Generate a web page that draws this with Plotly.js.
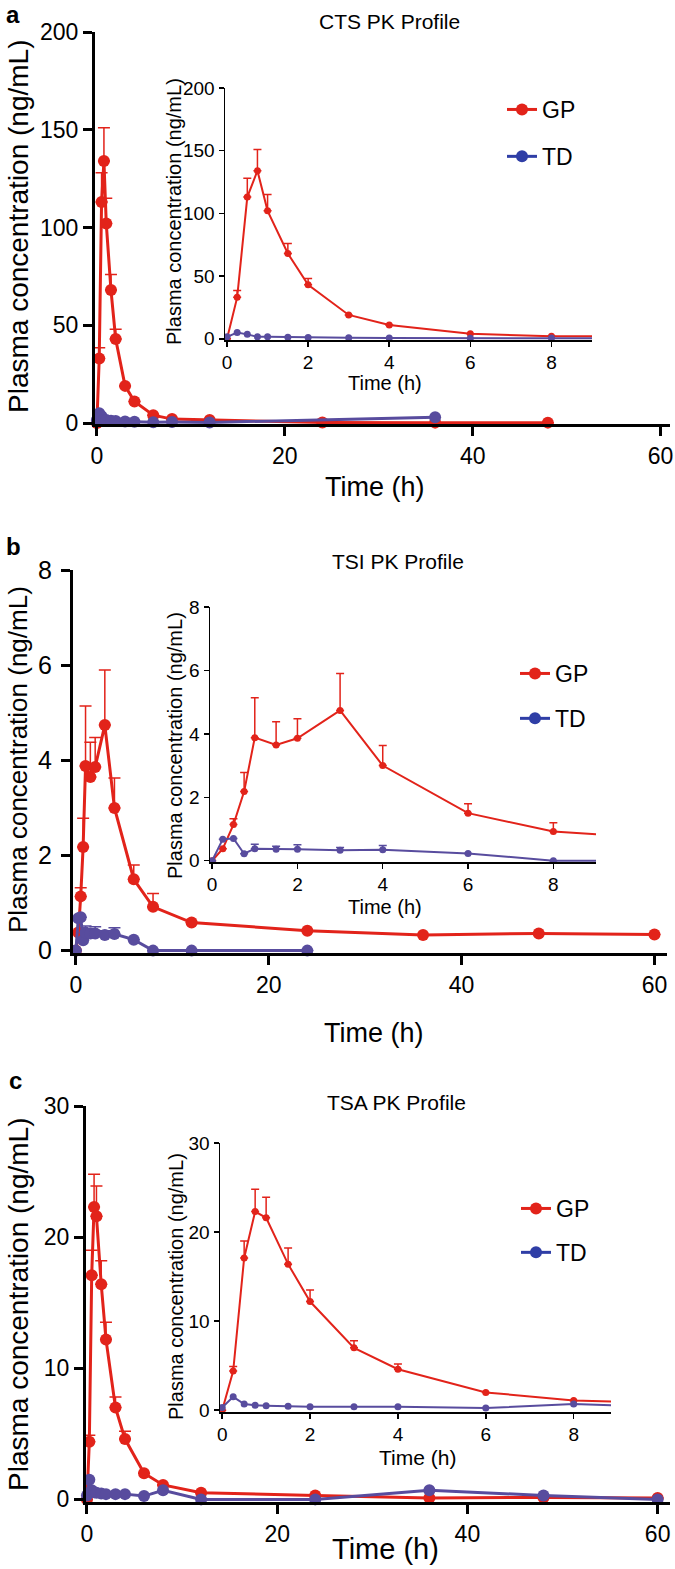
<!DOCTYPE html>
<html><head><meta charset="utf-8">
<script src="https://cdn.plot.ly/plotly-3.0.1.min.js"></script>
<style>html,body{margin:0;padding:0;background:#fff}#chart{width:675px;height:1569px}</style>
</head><body><div id="chart"></div>
<script>
// ---------- DATA ----------
const timesGP = [0,0.25,0.5,0.75,1,1.5,2,3,4,6,8,12,24,36,48];
const ctsGP    = [0,33,113,134,102,68,43,19,11,4,2,1.5,0.3,0.2,0.2];
const ctsGPerr = [0,5.5,15,17,13,8,5,0,0,0,0,0,0,0,0];
const timesCtsTD = [0,0.25,0.5,0.75,1,1.5,2,3,4,6,8,12,36];
const ctsTD    = [1.5,5,3.5,1.5,1.5,1.2,1,0.8,0.6,0.4,0.5,0.3,3];

const timesTsi = [0,0.25,0.5,0.75,1,1.5,2,3,4,6,8,12,24,36,48,60];
const tsiGP    = [0,0.38,1.14,2.18,3.88,3.65,3.86,4.74,3.0,1.5,0.92,0.59,0.42,0.33,0.36,0.34];
const tsiGPerr = [0,0,0.18,0.6,1.26,0.73,0.62,1.16,0.63,0.3,0.28,0,0,0,0,0];
const timesTsiTD = [0,0.25,0.5,0.75,1,1.5,2,3,4,6,8,12,24];
const tsiTD    = [0,0.68,0.7,0.22,0.38,0.36,0.36,0.33,0.35,0.23,0,0,0];
const tsiTDerr = [0,0,0,0,0.14,0.1,0.14,0.09,0.13,0,0,0,0];

const timesTsa = [0,0.25,0.5,0.75,1,1.5,2,3,4,6,8,12,24,36,48,60];
const tsaGP    = [0,4.4,17.1,22.3,21.6,16.4,12.2,7.0,4.6,2.0,1.1,0.5,0.3,0.1,0.15,0.1];
const tsaGPerr = [0,0.5,1.9,2.5,2.3,1.8,1.3,0.8,0.6,0,0,0,0,0,0,0];
const tsaTD    = [0.3,1.5,0.7,0.55,0.5,0.45,0.4,0.4,0.4,0.25,0.7,0,0,0.7,0.3,0];

const panelTitles = ["CTS PK Profile","TSI PK Profile","TSA PK Profile"];
const panelLetters = ["a","b","c"];
const seriesNames = ["GP","TD"];
const yTitle = "Plasma concentration (ng/mL)";
const xTitle = "Time (h)";

// ---------- STYLE ----------
const W=675, H=1569;
const RED="#e2231a", BLUE="#584c9e", LEGBLUE="#2f3ea6";
const FONT="Liberation Sans, Arial, Helvetica, sans-serif";
const px=x=>x/W, py=y=>1-y/H;
const zeros=a=>a.map(()=>0);

function mainTrace(x,y,err,color,xa,ya){
  const t={x:x,y:y,type:'scatter',mode:'lines+markers',xaxis:xa,yaxis:ya,showlegend:false,
    line:{color:color,width:3},marker:{color:color,size:12},cliponaxis:false};
  if(err) t.error_y={type:'data',symmetric:false,array:err,arrayminus:zeros(err),color:color,thickness:1.5,width:6};
  return t;
}
function insetTrace(x,y,err,color,xa,ya){
  const t={x:x,y:y,type:'scatter',mode:'lines+markers',xaxis:xa,yaxis:ya,showlegend:false,
    line:{color:color,width:2},marker:{color:color,size:7},cliponaxis:true};
  if(err) t.error_y={type:'data',symmetric:false,array:err,arrayminus:zeros(err),color:color,thickness:1.5,width:4};
  return t;
}
function legTrace(name,color,leg,grp,xa,ya){
  return {x:[null],y:[null],type:'scatter',mode:'lines+markers',name:name,legend:leg,legendgroup:grp,
    xaxis:xa,yaxis:ya,line:{color:color,width:3},marker:{color:color,size:12},showlegend:true};
}

const data=[
  mainTrace(timesGP,ctsGP,ctsGPerr,RED,'x','y'),
  mainTrace(timesCtsTD,ctsTD,null,BLUE,'x','y'),
  insetTrace(timesGP,ctsGP,ctsGPerr,RED,'x2','y2'),
  insetTrace(timesCtsTD,ctsTD,null,BLUE,'x2','y2'),
  legTrace(seriesNames[0],RED,'legend','g1','x2','y2'),
  legTrace(seriesNames[1],LEGBLUE,'legend','g2','x2','y2'),

  mainTrace(timesTsi,tsiGP,tsiGPerr,RED,'x3','y3'),
  mainTrace(timesTsiTD,tsiTD,tsiTDerr,BLUE,'x3','y3'),
  insetTrace(timesTsi,tsiGP,tsiGPerr,RED,'x4','y4'),
  insetTrace(timesTsiTD,tsiTD,tsiTDerr,BLUE,'x4','y4'),
  legTrace(seriesNames[0],RED,'legend2','g1','x4','y4'),
  legTrace(seriesNames[1],LEGBLUE,'legend2','g2','x4','y4'),

  mainTrace(timesTsa,tsaGP,tsaGPerr,RED,'x5','y5'),
  mainTrace(timesTsa,tsaTD,null,BLUE,'x5','y5'),
  insetTrace(timesTsa,tsaGP,tsaGPerr,RED,'x6','y6'),
  insetTrace(timesTsa,tsaTD,null,BLUE,'x6','y6'),
  legTrace(seriesNames[0],RED,'legend3','g1','x6','y6'),
  legTrace(seriesNames[1],LEGBLUE,'legend3','g2','x6','y6'),
];

function mainAx(dom,range,dtick,anchor,fs,standoff){
  return {domain:dom,range:range,dtick:dtick,tick0:0,anchor:anchor,showline:true,linewidth:3,linecolor:'#000',
    ticks:'outside',ticklen:9,tickwidth:3,tickcolor:'#000',showgrid:false,zeroline:false,
    ticklabelstandoff:standoff||0,
    tickfont:{family:FONT,size:fs||23,color:'#000'},fixedrange:true};
}
function insetAx(dom,range,dtick,anchor){
  return {domain:dom,range:range,dtick:dtick,tick0:0,anchor:anchor,showline:true,linewidth:1.5,linecolor:'#000',
    ticks:'outside',ticklen:5,tickwidth:1.5,tickcolor:'#000',showgrid:false,zeroline:false,
    tickfont:{family:FONT,size:19,color:'#000'},fixedrange:true};
}
function leg(xp,yp,gap){
  return {x:px(xp),y:py(yp),xanchor:'left',yanchor:'top',bgcolor:'rgba(0,0,0,0)',
    font:{family:FONT,size:23,color:'#000'},traceorder:'grouped',tracegroupgap:gap};
}
function ann(text,xp,yp,size,angle,bold){
  return {text:bold?'<b>'+text+'</b>':text,x:px(xp),y:py(yp),xref:'paper',yref:'paper',showarrow:false,
    xanchor:'center',yanchor:'middle',textangle:angle||0,font:{family:FONT,size:size,color:'#000'}};
}

const layout={
  width:W,height:H,margin:{l:0,r:0,t:0,b:0},paper_bgcolor:'#fff',plot_bgcolor:'rgba(0,0,0,0)',
  xaxis:mainAx([px(95),px(670)],[-0.2,61],20,'y'),
  yaxis:mainAx([py(424),py(32)],[-0.5,200],50,'x'),
  xaxis2:insetAx([px(225),px(592)],[-0.05,9],2,'y2'),
  yaxis2:insetAx([py(340),py(88)],[-1,200],50,'x2'),
  xaxis3:mainAx([px(73),px(667)],[-0.3,61.3],20,'y3'),
  yaxis3:mainAx([py(953),py(570)],[-0.05,8],2,'x3',25,4),
  xaxis4:insetAx([px(210),px(596)],[-0.05,9],2,'y4'),
  yaxis4:insetAx([py(862),py(607)],[-0.04,8],2,'x4'),
  xaxis5:mainAx([px(86),px(670)],[-0.1,61.3],20,'y5'),
  yaxis5:mainAx([py(1502),py(1106)],[-0.2,30],10,'x5'),
  xaxis6:insetAx([px(220),px(611)],[-0.05,8.85],2,'y6'),
  yaxis6:insetAx([py(1412),py(1143)],[-0.2,30],10,'x6'),
  legend:leg(502,88,14),
  legend2:leg(515,652,12),
  legend3:leg(516,1187,11),
  annotations:[
    ann(panelLetters[0],13,14,24,0,true),
    ann(panelLetters[1],13,546,24,0,true),
    ann(panelLetters[2],15,1080,24,0,true),
    ann(panelTitles[0],390,22,21),
    ann(panelTitles[1],398,562,21),
    ann(panelTitles[2],396,1102,21),
    ann(yTitle,18,226,28,-90),
    ann(yTitle,18,760,26,-90),
    ann(yTitle,18,1304,28,-90),
    ann(xTitle,375,487,27),
    ann(xTitle,374,1033,27),
    ann(xTitle,385,1549,29),
    ann(yTitle,174,212,20,-90),
    ann(yTitle,175,746,20,-90),
    ann(yTitle,176,1286,20,-90),
    ann(xTitle,385,383,20),
    ann(xTitle,385,907,20),
    ann(xTitle,417,1457,21),
  ]
};
Plotly.newPlot('chart',data,layout,{displayModeBar:false,staticPlot:true});
</script></body></html>
